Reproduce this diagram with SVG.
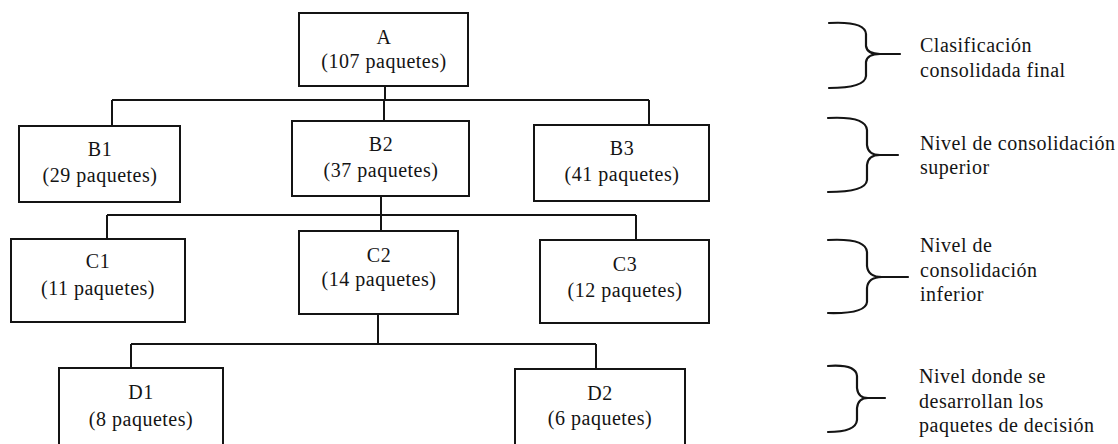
<svg xmlns="http://www.w3.org/2000/svg" width="1118" height="444" viewBox="0 0 1118 444">
  <style>
    .box { fill: #fff; stroke: #141414; stroke-width: 2; }
    .wire { fill: none; stroke: #141414; stroke-width: 2; }
    .brace { fill: none; stroke: #141414; stroke-width: 2.2; stroke-linecap: round; }
    text { font-family: "Liberation Serif", "Times New Roman", serif; font-size: 20px; fill: #141414; letter-spacing: 0.5px; }
    .c { text-anchor: middle; }
  </style>
  <rect width="1118" height="444" fill="#fff"/>

  <!-- connectors -->
  <g id="connectors" class="wire">
    <path d="M385,86 V100 M112,100 H649 M112,100 V126 M384,100 V121 M649,100 V125"/>
    <path d="M381,196 V215 M107,215 H636 M107,215 V239 M381,215 V231 M636,215 V240"/>
    <path d="M378,314 V344 M131,344 H596 M131,344 V368 M596,344 V369"/>
  </g>

  <!-- level A -->
  <g id="node-A">
    <rect class="box" x="299" y="13" width="169" height="73"/>
    <text class="c" x="384" y="44">A</text>
    <text class="c" x="384" y="68">(107 paquetes)</text>
  </g>

  <!-- level B -->
  <g id="node-B1">
    <rect class="box" x="19" y="126" width="161" height="76"/>
    <text class="c" x="100" y="156">B1</text>
    <text class="c" x="100" y="182">(29 paquetes)</text>
  </g>
  <g id="node-B2">
    <rect class="box" x="292" y="121" width="177" height="75"/>
    <text class="c" x="381" y="151">B2</text>
    <text class="c" x="381" y="177">(37 paquetes)</text>
  </g>
  <g id="node-B3">
    <rect class="box" x="534" y="125" width="175" height="76"/>
    <text class="c" x="622" y="155">B3</text>
    <text class="c" x="622" y="181">(41 paquetes)</text>
  </g>

  <!-- level C -->
  <g id="node-C1">
    <rect class="box" x="11" y="239" width="174" height="83"/>
    <text class="c" x="98" y="268">C1</text>
    <text class="c" x="98" y="295">(11 paquetes)</text>
  </g>
  <g id="node-C2">
    <rect class="box" x="299" y="231" width="159" height="83"/>
    <text class="c" x="379" y="262">C2</text>
    <text class="c" x="379" y="286">(14 paquetes)</text>
  </g>
  <g id="node-C3">
    <rect class="box" x="540" y="240" width="169" height="83"/>
    <text class="c" x="625" y="271">C3</text>
    <text class="c" x="625" y="297">(12 paquetes)</text>
  </g>

  <!-- level D (boxes run past the lower edge) -->
  <g id="node-D1">
    <rect class="box" x="59" y="368" width="164" height="90"/>
    <text class="c" x="141" y="399">D1</text>
    <text class="c" x="141" y="426">(8 paquetes)</text>
  </g>
  <g id="node-D2">
    <rect class="box" x="515" y="369" width="170" height="90"/>
    <text class="c" x="600" y="400">D2</text>
    <text class="c" x="600" y="425">(6 paquetes)</text>
  </g>

  <!-- level legends with braces -->
  <g id="legend-1">
    <path class="brace" d="M829,23 Q865,21 866,34 V46 Q867,54 880,54 H900 M880,54 Q867,54 866,62 V76 Q865,88 829,88"/>
    <text x="920" y="52">Clasificación</text>
    <text x="920" y="77">consolidada final</text>
  </g>
  <g id="legend-2">
    <path class="brace" d="M828,118 Q866,116 867,130 V145 Q868,155 880,155 H898 M880,155 Q868,155 867,165 V180 Q866,192 828,192"/>
    <text x="920" y="150">Nivel de consolidación</text>
    <text x="920" y="174">superior</text>
  </g>
  <g id="legend-3">
    <path class="brace" d="M828,240 Q866,238 867,252 V266 Q868,277 882,277 H908 M882,277 Q868,277 867,288 V302 Q866,314 828,313"/>
    <text x="920" y="252">Nivel de</text>
    <text x="920" y="277">consolidación</text>
    <text x="920" y="301">inferior</text>
  </g>
  <g id="legend-4">
    <path class="brace" d="M828,366 Q856,364 857,376 V388 Q858,398 868,398 H885 M868,398 Q858,398 857,408 V420 Q856,432 828,432"/>
    <text x="919" y="383">Nivel donde se</text>
    <text x="919" y="408">desarrollan los</text>
    <text x="919" y="432">paquetes de decisión</text>
  </g>
</svg>
